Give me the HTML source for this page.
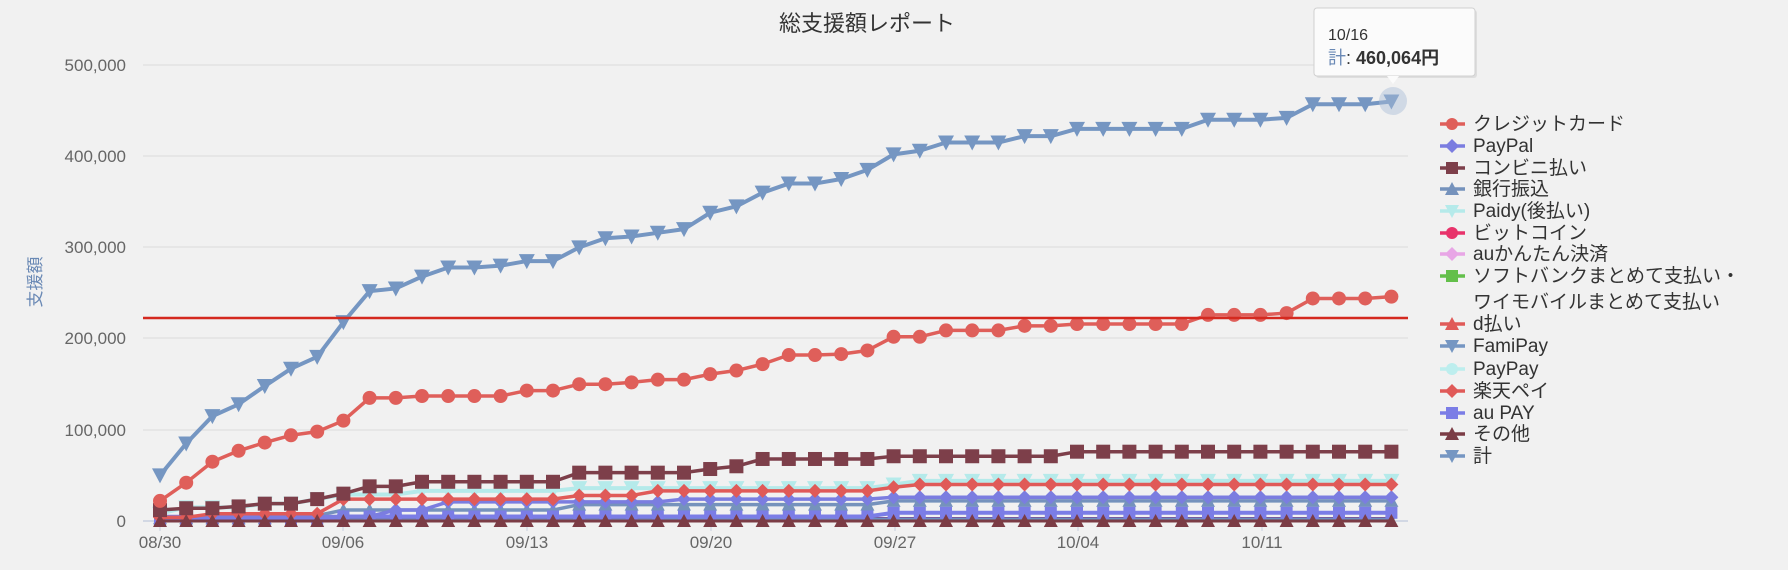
<!DOCTYPE html>
<html><head><meta charset="utf-8"><style>
html,body{margin:0;padding:0;background:#f1f1f1;}
body{width:1788px;height:570px;overflow:hidden;position:relative;font-family:"Liberation Sans","Noto Sans CJK JP",sans-serif;}
svg{position:absolute;left:0;top:0;}
</style></head><body>
<svg id="c" width="1788" height="570" xmlns="http://www.w3.org/2000/svg" font-family="Liberation Sans, Noto Sans CJK JP, sans-serif">
<rect width="1788" height="570" fill="#f1f1f1"/>
<text x="867" y="31" font-size="22" text-anchor="middle" fill="#333">総支援額レポート</text>
<g stroke="#e2e2e2" stroke-width="1.5">
<line x1="143" y1="65" x2="1408" y2="65"/><line x1="143" y1="156" x2="1408" y2="156"/><line x1="143" y1="247" x2="1408" y2="247"/><line x1="143" y1="338" x2="1408" y2="338"/><line x1="143" y1="430" x2="1408" y2="430"/>
</g>
<line x1="143" y1="521" x2="1408" y2="521" stroke="#c8d0e0" stroke-width="1.5"/>
<g font-size="17" fill="#666" text-anchor="end">
<text x="126" y="71">500,000</text><text x="126" y="162">400,000</text><text x="126" y="253">300,000</text><text x="126" y="344">200,000</text><text x="126" y="436">100,000</text><text x="126" y="527">0</text>
</g>
<text transform="translate(41,282) rotate(-90)" font-size="17" fill="#6a89b5" text-anchor="middle">支援額</text>
<g font-size="17" fill="#666" text-anchor="middle">
<text x="160" y="548">08/30</text><text x="343" y="548">09/06</text><text x="527" y="548">09/13</text><text x="711" y="548">09/20</text><text x="895" y="548">09/27</text><text x="1078" y="548">10/04</text><text x="1262" y="548">10/11</text>
</g>
<g stroke="#c8d0e0"><line x1="160" y1="521" x2="160" y2="531"/><line x1="343" y1="521" x2="343" y2="531"/><line x1="527" y1="521" x2="527" y2="531"/><line x1="711" y1="521" x2="711" y2="531"/><line x1="895" y1="521" x2="895" y2="531"/><line x1="1078" y1="521" x2="1078" y2="531"/><line x1="1262" y1="521" x2="1262" y2="531"/></g>
<g id="series"></g>
<line x1="143" y1="318" x2="1408" y2="318" stroke="#d4291f" stroke-width="2.5"/>
<circle cx="1393" cy="101" r="14" fill="#a8bcd8" opacity="0.45"/>
<g id="legend" font-size="19" fill="#333">
<text x="1473" y="130">クレジットカード</text>
<text x="1473" y="152">PayPal</text>
<text x="1473" y="174">コンビニ払い</text>
<text x="1473" y="195">銀行振込</text>
<text x="1473" y="217">Paidy(後払い)</text>
<text x="1473" y="239">ビットコイン</text>
<text x="1473" y="260">auかんたん決済</text>
<text x="1473" y="282">ソフトバンクまとめて支払い・</text>
<text x="1473" y="308">ワイモバイルまとめて支払い</text>
<text x="1473" y="330">d払い</text>
<text x="1473" y="352">FamiPay</text>
<text x="1473" y="375">PayPay</text>
<text x="1473" y="397">楽天ペイ</text>
<text x="1473" y="419">au PAY</text>
<text x="1473" y="440">その他</text>
<text x="1473" y="462">計</text>
</g>
<g>
<rect x="1314" y="8" width="161" height="68" rx="3" fill="#000" opacity="0.08" transform="translate(2,2)"/>
<rect x="1314" y="8" width="161" height="68" rx="3" fill="#fbfbfb" stroke="#d0d0d0"/>
<path d="M1387 76 L1393 84 L1399 76 Z" fill="#fbfbfb"/>
<text x="1328" y="40" font-size="16" fill="#333">10/16</text>
<text x="1328" y="64" font-size="18" fill="#6a89b5">計<tspan fill="#333">: </tspan><tspan fill="#333" font-weight="bold">460,064円</tspan></text>
</g>
</svg>
<script>
const NS="http://www.w3.org/2000/svg";
const g=document.getElementById('series');
const X=i=>160+i*26.2, Y=v=>521-v*0.912;
function steps(def){const a=[];let cur=0;for(let i=0;i<48;i++){if(def[i]!==undefined)cur=def[i];a.push(cur);}return a;}
const total=[50,85,115,128,148,167,180,218,252,255,268,278,278,280,285,285,300,310,312,316,320,338,345,360,370,370,375,385,402,406,415,415,415,422,422,430,430,430,430,430,440,440,440,442,457,457,457,460];
const credit=[22,42,65,77,86,94,98,110,135,135,137,137,137,137,143,143,150,150,152,155,155,161,165,172,182,182,183,187,202,202,209,209,209,214,214,216,216,216,216,216,226,226,226,228,244,244,244,246];
const konbini=steps({0:12,1:14,3:16,4:19,6:24,7:30,8:38,10:43,16:53,21:57,22:60,23:68,28:71,35:76});
const paidy=steps({0:8,1:15,4:19,6:24,7:29,10:33,16:36,28:40,29:44});
const rakuten=steps({0:4,2:8,7:24,16:28,19:33,28:37,29:40});
const paypal=steps({0:5,9:12,11:21,20:24,28:26});
const bank=steps({0:3,5:6,7:12,16:18,28:22});
const aupay=steps({0:2,7:5,28:9});
const famipay=steps({0:1,20:2});
const purple=steps({0:3});
const others=steps({0:0});
function marker(type,x,y,c,s,parent){let e;
 if(type=='circle'){e=document.createElementNS(NS,'circle');e.setAttribute('cx',x);e.setAttribute('cy',y);e.setAttribute('r',s);}
 else{e=document.createElementNS(NS,'path');let d;
  if(type=='square')d=`M${x-s} ${y-s}h${2*s}v${2*s}h${-2*s}Z`;
  if(type=='diamond')d=`M${x} ${y-s-1}L${x+s+1} ${y}L${x} ${y+s+1}L${x-s-1} ${y}Z`;
  if(type=='tri')d=`M${x} ${y-s-1}L${x+s+1} ${y+s}L${x-s-1} ${y+s}Z`;
  if(type=='tridown')d=`M${x-s-1} ${y-s}L${x+s+1} ${y-s}L${x} ${y+s+1}Z`;
  e.setAttribute('d',d);}
 e.setAttribute('fill',c);(parent||g).appendChild(e);}
function series(data,c,type,w,s){const p=document.createElementNS(NS,'path');
 p.setAttribute('d',data.map((v,i)=>(i?'L':'M')+X(i)+' '+Y(v)).join(''));
 p.setAttribute('stroke',c);p.setAttribute('stroke-width',w);p.setAttribute('fill','none');p.setAttribute('stroke-linejoin','round');g.appendChild(p);
 if(type)data.forEach((v,i)=>marker(type,X(i),Y(v),c,s));}
series(purple,'#7a3d8a',null,2.5,0);
series(bank,'#7592bc','tri',3.5,6);
series(famipay,'#6d8fc0','tridown',3,5);
series(aupay,'#7b7de6','square',4,6);
series(paypal,'#7b7de0','diamond',3.5,6);
series(paidy,'#b5eaea','tridown',4,7);
series(rakuten,'#e05a58','diamond',3.5,6);
series(others,'#7b3c45','tri',3,6);
series(konbini,'#7d3f4a','square',3.5,7);
series(credit,'#df5f5a','circle',3.5,7);
series(total,'#7596c2','tridown',4,7);
const svg=document.getElementById('c');
const leg=[['circle','#df5f5a'],['diamond','#7b7de0'],['square','#7d3f4a'],['tri','#7592bc'],['tridown','#b5eaea'],['circle','#e8336b'],['diamond','#e8a6e6'],['square','#63bf4a'],null,['tri','#e05a58'],['tridown','#7596c2'],['circle','#bdeeee'],['diamond','#e05a58'],['square','#7b7de6'],['tri','#7b3c45'],['tridown','#7596c2']];
const ly=[124,146,168,189,211,233,254,276,0,324,346,369,391,413,434,456];
leg.forEach((l,i)=>{if(!l)return;const y=ly[i];const p=document.createElementNS(NS,'line');
 p.setAttribute('x1',1440);p.setAttribute('x2',1465);p.setAttribute('y1',y);p.setAttribute('y2',y);p.setAttribute('stroke',l[1]);p.setAttribute('stroke-width',3.5);svg.appendChild(p);
 marker(l[0],1452,y,l[1],6,svg);});
</script>
</body></html>
